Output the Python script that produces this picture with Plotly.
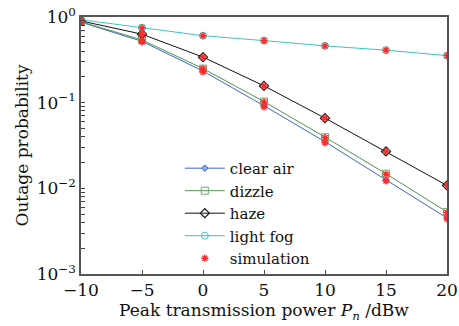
import plotly.graph_objects as go

power_dbw = [-10, -5, 0, 5, 10, 15, 20]

clear_air = [0.87, 0.52, 0.234, 0.092, 0.035, 0.0125, 0.0045]
dizzle = [0.88, 0.54, 0.25, 0.103, 0.0396, 0.0148, 0.0053]
haze = [0.90, 0.63, 0.34, 0.157, 0.066, 0.027, 0.0108]
light_fog = [0.93, 0.75, 0.605, 0.53, 0.46, 0.41, 0.354]

sim_clear_air = [0.87, 0.51, 0.228, 0.089, 0.034, 0.0122, 0.0044]
sim_dizzle = [0.88, 0.54, 0.25, 0.102, 0.0392, 0.0146, 0.0052]
sim_haze = [0.90, 0.63, 0.34, 0.157, 0.066, 0.027, 0.0108]
sim_light_fog = [0.93, 0.75, 0.605, 0.53, 0.46, 0.41, 0.354]

y_tickvals = [10.0 ** e * m for e in (-3, -2, -1) for m in range(1, 10)] + [1.0]
y_ticktext = []
for v in y_tickvals:
    if abs(v - 0.001) < 1e-12:
        y_ticktext.append("10<sup>\u22123</sup>")
    elif abs(v - 0.01) < 1e-12:
        y_ticktext.append("10<sup>\u22122</sup>")
    elif abs(v - 0.1) < 1e-12:
        y_ticktext.append("10<sup>\u22121</sup>")
    elif abs(v - 1.0) < 1e-12:
        y_ticktext.append("10<sup>0</sup>")
    else:
        y_ticktext.append("")

FONT = "DejaVu Serif, serif"

fig = go.Figure()

series = [
    ("clear air", clear_air, "#3d64d0", dict(symbol="diamond", size=5, color="#8fa8ee", line=dict(color="#3d64d0", width=1))),
    ("dizzle", dizzle, "#4f9450", dict(symbol="square-open", size=7, color="#6fa86f", line=dict(width=1))),
    ("haze", haze, "#111111", dict(symbol="diamond-open", size=7, color="#111111", line=dict(width=1.2))),
    ("light fog", light_fog, "#3cc4c4", dict(symbol="circle-open", size=7, color="#3cc4c4", line=dict(width=1))),
]
for name, vals, color, marker in series:
    fig.add_trace(go.Scatter(
        x=power_dbw, y=vals, name=name, mode="lines+markers",
        line=dict(color=color, width=1), marker=marker,
    ))

sims = [sim_clear_air, sim_dizzle, sim_haze, sim_light_fog]
for i, vals in enumerate(sims):
    fig.add_trace(go.Scatter(
        x=power_dbw, y=vals, name="simulation", mode="markers",
        legendgroup="sim", showlegend=(i == 0),
        marker=dict(symbol="asterisk-open", size=6, color="#ff2a2a", line=dict(color="#ff2a2a", width=1.4)),
    ))

fig.update_layout(
    width=459, height=326,
    margin=dict(l=81, r=12, t=17, b=52),
    paper_bgcolor="white", plot_bgcolor="white",
    font=dict(family=FONT, size=17, color="#111111"),
    legend=dict(
        x=0.27, y=0.475, xanchor="left", yanchor="top",
        bgcolor="rgba(0,0,0,0)", font=dict(family=FONT, size=15),
        tracegroupgap=0, itemwidth=40,
    ),
    xaxis=dict(
        range=[-10, 20], tickvals=[-10, -5, 0, 5, 10, 15, 20],
        ticktext=["\u221210", "\u22125", "0", "5", "10", "15", "20"],
        ticks="inside", ticklen=4, tickcolor="#444444",
        showline=True, linecolor="#555555", linewidth=1.5, mirror=True,
        showgrid=False, zeroline=False, automargin=False,
        title=dict(text="Peak transmission power <i>P</i><sub><i>n</i></sub> /dBw", standoff=4,
                   font=dict(family=FONT, size=17)),
        tickfont=dict(family=FONT, size=17),
    ),
    yaxis=dict(
        type="log", range=[-3, 0],
        tickvals=y_tickvals, ticktext=y_ticktext,
        ticks="inside", ticklen=4, tickcolor="#444444",
        showline=True, linecolor="#555555", linewidth=1.5, mirror=True,
        showgrid=False, zeroline=False, automargin=False,
        title=dict(text="Outage probability", standoff=4, font=dict(family=FONT, size=17)),
        tickfont=dict(family=FONT, size=17),
    ),
)

fig.write_html("out.html")
